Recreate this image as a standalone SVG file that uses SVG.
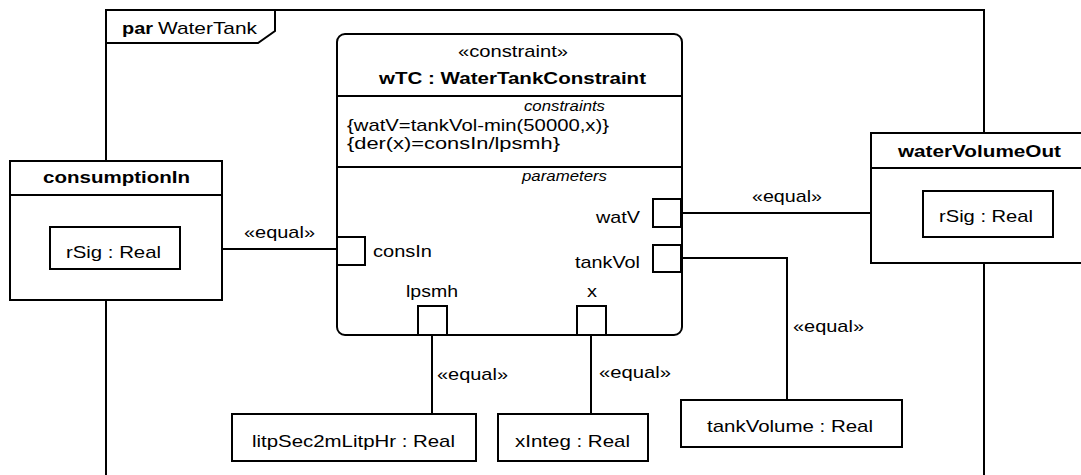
<svg xmlns="http://www.w3.org/2000/svg" width="1081" height="475" viewBox="0 0 1081 475">
<style>
.ln{fill:none;stroke:#000;stroke-width:2}
.bx{fill:#fff;stroke:#000;stroke-width:2}
text{font-family:"Liberation Sans",Arial,sans-serif;font-size:17px;fill:#000}
.b{font-weight:bold}
.i{font-style:italic;font-size:14px}
</style>
<rect width="1081" height="475" fill="#fff"/>
<g id="frame">
<rect class="ln" x="106" y="10" width="878" height="500"/>
<path class="ln" d="M106,43 H258 L275,31 V10"/>
<text class="b" x="122" y="34" textLength="31" lengthAdjust="spacingAndGlyphs">par</text>
<text x="158" y="34" textLength="99" lengthAdjust="spacingAndGlyphs">WaterTank</text>
</g>
<g id="connectors">
<path class="ln" d="M180,249 H337"/>
<path class="ln" d="M681,213 H923"/>
<path class="ln" d="M681,258 H787 V400"/>
<path class="ln" d="M432,335 V414"/>
<path class="ln" d="M591,335 V414"/>
<text x="244" y="238" textLength="71" lengthAdjust="spacingAndGlyphs">«equal»</text>
<text x="752" y="202" textLength="70" lengthAdjust="spacingAndGlyphs">«equal»</text>
<text x="793" y="332" textLength="71" lengthAdjust="spacingAndGlyphs">«equal»</text>
<text x="437" y="380" textLength="71" lengthAdjust="spacingAndGlyphs">«equal»</text>
<text x="599" y="378" textLength="72" lengthAdjust="spacingAndGlyphs">«equal»</text>
</g>
<g id="wTC">
<rect class="bx" x="337" y="34" width="345" height="301" rx="8"/>
<path class="ln" d="M337,96 H682 M337,167 H682"/>
<text x="458" y="57" textLength="110" lengthAdjust="spacingAndGlyphs">«constraint»</text>
<text class="b" x="379" y="84" textLength="267" lengthAdjust="spacingAndGlyphs">wTC : WaterTankConstraint</text>
<text class="i" x="524" y="111" textLength="81" lengthAdjust="spacingAndGlyphs">constraints</text>
<text x="347" y="131" textLength="262" lengthAdjust="spacingAndGlyphs">{watV=tankVol-min(50000,x)}</text>
<text x="347" y="149" textLength="213" lengthAdjust="spacingAndGlyphs">{der(x)=consIn/lpsmh}</text>
<text class="i" x="522" y="181" textLength="85" lengthAdjust="spacingAndGlyphs">parameters</text>
</g>
<g id="port-consIn">
<rect class="bx" x="337" y="237" width="28" height="28"/>
<text x="373" y="257" textLength="59" lengthAdjust="spacingAndGlyphs">consIn</text>
</g>
<g id="port-watV">
<rect class="bx" x="653" y="199" width="28" height="28"/>
<text x="596" y="223" textLength="44" lengthAdjust="spacingAndGlyphs">watV</text>
</g>
<g id="port-tankVol">
<rect class="bx" x="653" y="245" width="28" height="27"/>
<text x="575" y="268" textLength="65" lengthAdjust="spacingAndGlyphs">tankVol</text>
</g>
<g id="port-lpsmh">
<rect class="bx" x="418" y="306" width="29" height="29"/>
<text x="406" y="297" textLength="52" lengthAdjust="spacingAndGlyphs">lpsmh</text>
</g>
<g id="port-x">
<rect class="bx" x="577" y="306" width="29" height="29"/>
<text x="587" y="297" textLength="10" lengthAdjust="spacingAndGlyphs">x</text>
</g>
<g id="consumptionIn">
<rect class="bx" x="10" y="161" width="212" height="139"/>
<path class="ln" d="M10,195 H222"/>
<text class="b" x="43" y="183" textLength="147" lengthAdjust="spacingAndGlyphs">consumptionIn</text>
</g>
<g id="rSig-in">
<rect class="bx" x="50" y="227" width="130" height="42"/>
<text x="66" y="258" textLength="95" lengthAdjust="spacingAndGlyphs">rSig : Real</text>
</g>
<g id="waterVolumeOut">
<rect class="bx" x="871" y="133" width="250" height="130"/>
<path class="ln" d="M871,168 H1081"/>
<text class="b" x="898" y="157" textLength="163" lengthAdjust="spacingAndGlyphs">waterVolumeOut</text>
</g>
<g id="rSig-out">
<rect class="bx" x="923" y="191" width="130" height="46"/>
<text x="939" y="222" textLength="94" lengthAdjust="spacingAndGlyphs">rSig : Real</text>
</g>
<g id="litpSec2mLitpHr">
<rect class="bx" x="232" y="414" width="244" height="47"/>
<text x="252" y="447" textLength="203" lengthAdjust="spacingAndGlyphs">litpSec2mLitpHr : Real</text>
</g>
<g id="xInteg">
<rect class="bx" x="498" y="414" width="150" height="47"/>
<text x="515" y="447" textLength="115" lengthAdjust="spacingAndGlyphs">xInteg : Real</text>
</g>
<g id="tankVolume">
<rect class="bx" x="681" y="400" width="221" height="47"/>
<text x="707" y="432" textLength="166" lengthAdjust="spacingAndGlyphs">tankVolume : Real</text>
</g>
</svg>
